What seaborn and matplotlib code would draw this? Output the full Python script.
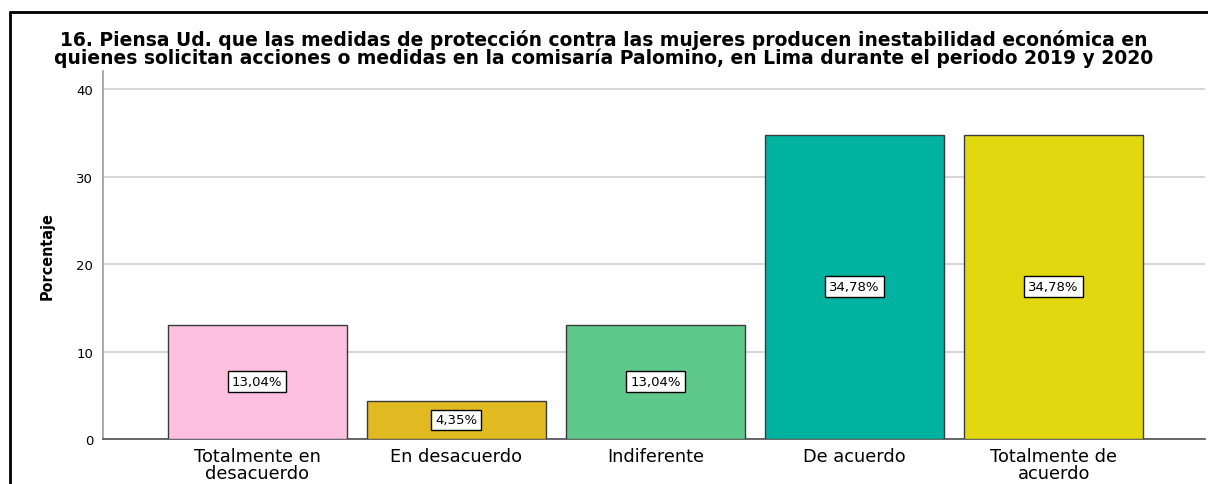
import pandas as pd
import matplotlib
matplotlib.use('Agg')
import matplotlib.pyplot as plt
import seaborn as sns
from matplotlib.lines import Line2D

# datos
categorias = ['Totalmente en\ndesacuerdo', 'En desacuerdo', 'Indiferente', 'De acuerdo', 'Totalmente de\nacuerdo']
porcentajes = [13.04, 4.35, 13.04, 34.78, 34.78]
etiquetas = ['13,04%', '4,35%', '13,04%', '34,78%', '34,78%']
colores = ['#FFC0E0', '#E0BA20', '#5EC98A', '#00B2A0', '#E2D810']
titulo = ('16. Piensa Ud. que las medidas de protección contra las mujeres producen inestabilidad económica en\n'
          'quienes solicitan acciones o medidas en la comisaría Palomino, en Lima durante el periodo 2019 y 2020')

df = pd.DataFrame({'cat': categorias, 'pct': porcentajes})

sns.set_theme(style='white')
plt.rcParams['font.family'] = ['DejaVu Sans']

fig = plt.figure(figsize=(12.08, 4.85), dpi=100)
ax = fig.add_axes([0.0853, 0.0928, 0.9122, 0.7587])

sns.barplot(data=df, x='cat', y='pct', hue='cat', palette=colores, legend=False, saturation=1,
            width=0.9, edgecolor='#3a3a3a', linewidth=1.0, ax=ax, zorder=3)

# etiquetas en el centro de cada barra
for i, (v, t) in enumerate(zip(porcentajes, etiquetas)):
    ax.text(i, v / 2, t, ha='center', va='center', fontsize=9.5, zorder=5, color='black',
            bbox=dict(boxstyle='square,pad=0.3', fc='white', ec='black', lw=1))

ax.set_xlim(-0.774, 4.76)
ax.set_ylim(0, 42.06)
ax.set_yticks([0, 10, 20, 30, 40])
ax.yaxis.grid(True, color='#D0D0D0', lw=1.2, zorder=0)
ax.set_axisbelow(True)
ax.tick_params(axis='y', labelsize=9.5, length=0, pad=7, labelcolor='black')
ax.tick_params(axis='x', labelsize=12.8, length=0, pad=6, labelcolor='black')
for lab in ax.get_xticklabels():
    lab.set_linespacing(0.88)
ax.set_xlabel('')
ax.set_ylabel('Porcentaje', fontsize=11.5, fontweight='bold', fontstretch='condensed',
              color='black', labelpad=16)
for s in ['top', 'right']:
    ax.spines[s].set_visible(False)
ax.spines['left'].set_color('#A0A0A0')
ax.spines['bottom'].set_color('#555555')

fig.text(0.5, 0.899, titulo, ha='center', va='center', fontsize=13.5, fontweight='bold',
         linespacing=0.92, color='black')

# marco del recorte
fig.add_artist(Line2D([10 / 1208, 1.0], [1 - 13 / 485, 1 - 13 / 485], color='black', lw=2, transform=fig.transFigure))
fig.add_artist(Line2D([10 / 1208, 10 / 1208], [0, 1 - 13 / 485], color='black', lw=2, transform=fig.transFigure))

fig.savefig('out.png', dpi=100)
